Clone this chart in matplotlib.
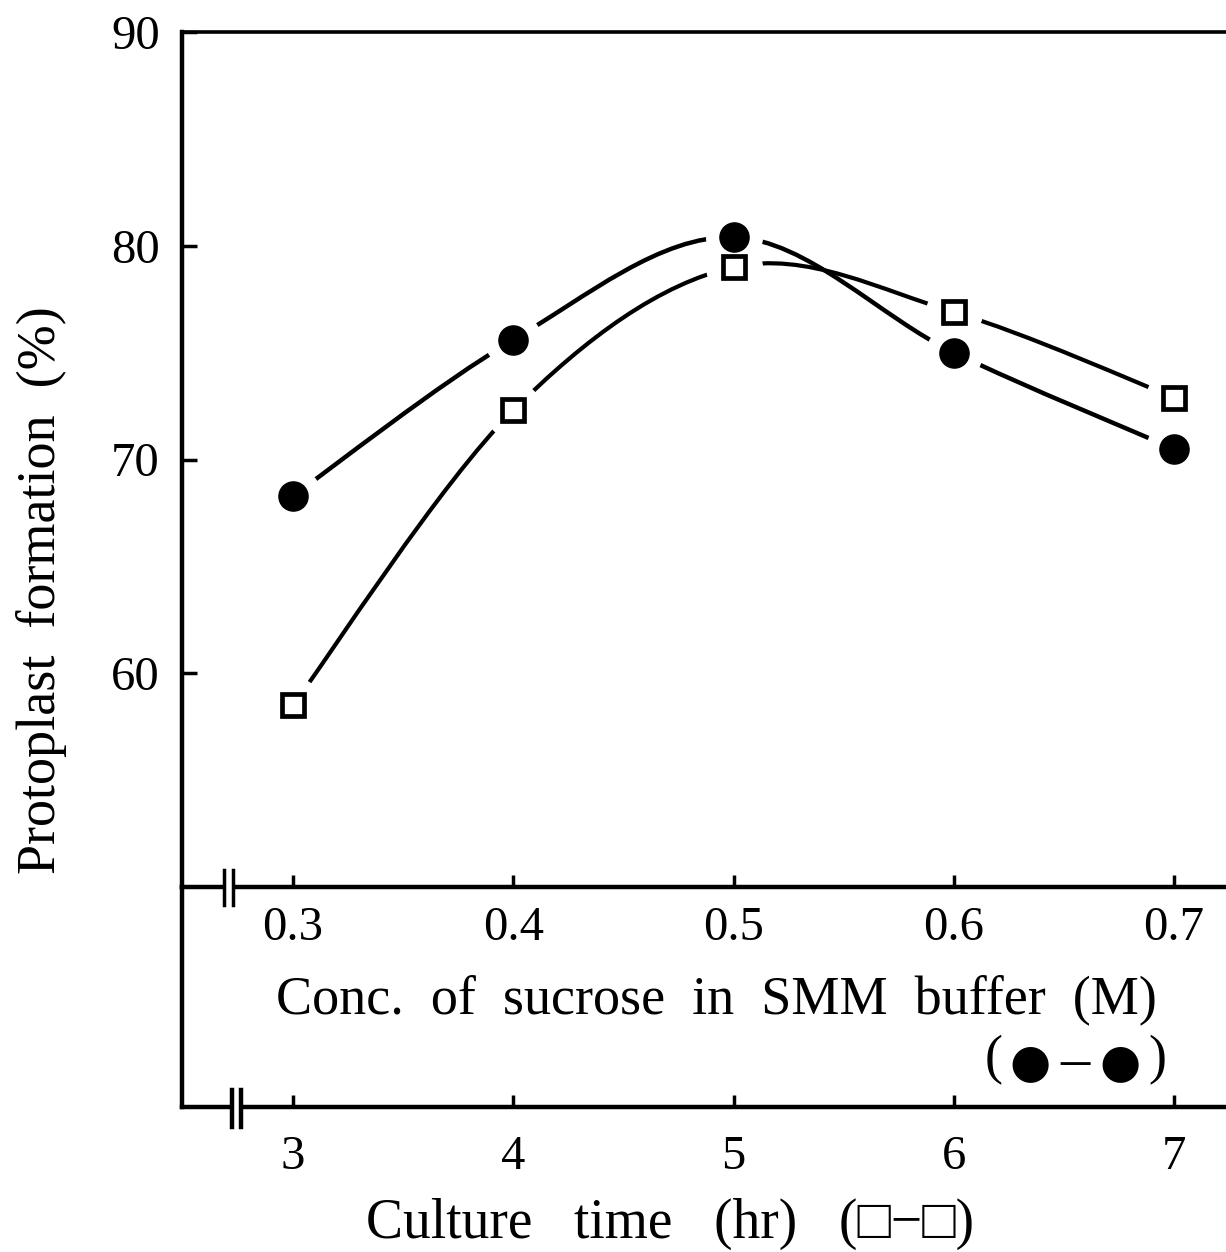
import numpy as np
import matplotlib.pyplot as plt
from matplotlib.path import Path
from matplotlib.patches import PathPatch, Rectangle
from matplotlib.lines import Line2D
from matplotlib.transforms import blended_transform_factory

# values
sucrose = [0.3, 0.4, 0.5, 0.6, 0.7]            # M, filled circles
culture_time = [3, 4, 5, 6, 7]                 # hr, open squares
formation_sucrose = [68.3, 75.6, 80.4, 75.0, 70.5]
formation_time = [58.5, 72.3, 79.0, 76.9, 72.9]
y_ticks = [60, 70, 80, 90]
sucrose_labels = ['0.3', '0.4', '0.5', '0.6', '0.7']
time_labels = ['3', '4', '5', '6', '7']

W, H = 1226, 1252
SERIF = ['Liberation Serif', 'DejaVu Serif']
plt.rcParams['font.family'] = SERIF


def fx(px):
    return px / W


def fy(py):
    return 1 - py / H


def smooth_path(xs, ys):
    # Catmull-Rom curve through the points, as cubic Bezier segments
    pts = np.column_stack([xs, ys]).astype(float)
    ext = np.vstack([pts[0], pts, pts[-1]])
    verts = [pts[0]]
    codes = [Path.MOVETO]
    for i in range(1, len(ext) - 2):
        p0, p1, p2, p3 = ext[i - 1], ext[i], ext[i + 1], ext[i + 2]
        verts += [p1 + (p2 - p0) / 6, p2 - (p3 - p1) / 6, p2]
        codes += [Path.CURVE4] * 3
    return Path(verts, codes)


fig = plt.figure(figsize=(W / 100, H / 100), dpi=100)

# main panel (top x axis = sucrose)
ax = fig.add_axes([fx(182), fy(887), fx(1226 - 182), (887 - 32) / H])
# lower panel carrying the culture time axis
ax2 = fig.add_axes([fx(182), fy(1107), fx(1226 - 182), (1107 - 887) / H])
ax2.patch.set_alpha(0)

ax.set_xlim(0.2496, 0.7236)
ax.set_ylim(50, 90)
ax2.set_xlim(2.496, 7.236)
ax2.set_ylim(0, 1)

for a in (ax, ax2):
    a.spines['right'].set_visible(False)
    for s in a.spines.values():
        s.set_linewidth(3.2)
ax2.spines['top'].set_visible(False)
ax.spines['top'].set_linewidth(2.6)

tr_time = blended_transform_factory(ax2.transData, ax.transData)

ax.add_patch(PathPatch(smooth_path(sucrose, formation_sucrose), fill=False,
                       lw=3.2, color='black', zorder=2))
ax.add_patch(PathPatch(smooth_path(culture_time, formation_time), fill=False,
                       lw=3.0, color='black', zorder=2, transform=tr_time))

# white gaps around the points
ax.plot(sucrose, formation_sucrose, 'o', ms=40, color='white', zorder=3)
ax.plot(culture_time, formation_time, 'o', ms=40, color='white', zorder=3,
        transform=tr_time)

ax.plot(sucrose, formation_sucrose, 'o', ms=21, color='black', zorder=4)
ax.plot(culture_time, formation_time, 's', ms=16, mfc='white', mec='black',
        mew=3.4, zorder=4, transform=tr_time)

ax.set_xlim(0.2496, 0.7236)
ax.set_ylim(50, 90)

ax.set_xticks(sucrose)
ax.set_xticklabels(sucrose_labels)
ax.set_yticks(y_ticks)
ax.tick_params(axis='x', direction='in', length=9, width=2.5, pad=14, labelsize=35)
ax.tick_params(axis='y', direction='in', length=11, width=2.5, pad=16, labelsize=35)

ax2.set_xticks(culture_time)
ax2.set_xticklabels(time_labels)
ax2.set_yticks([])
ax2.tick_params(axis='x', direction='in', length=9, width=2.5, pad=20, labelsize=35)

# axis titles
fig.text(fx(42), fy(590), 'Protoplast  formation  (%)', rotation=90,
         ha='center', va='center', fontsize=39)
fig.text(fx(716), fy(1000), 'Conc.  of  sucrose  in  SMM  buffer  (M)',
         ha='center', va='center', fontsize=39)

# symbol key under the sucrose axis: (● – ●)
fig.text(fx(994), fy(1060), '(', ha='center', va='center', fontsize=39)
fig.text(fx(1157), fy(1060), ')', ha='center', va='center', fontsize=39)
fig.text(fx(1075), fy(1063), '\u2013', ha='center', va='center', fontsize=42)
for xc in (1030, 1120):
    fig.text(fx(xc), fy(1064), '\u25cf', ha='center', va='center',
             fontsize=34, family='DejaVu Sans')

fig.text(fx(670), fy(1224), 'Culture   time   (hr)   (\u25a1\u2212\u25a1)',
         ha='center', va='center', fontsize=40,
         family=['Liberation Serif', 'DejaVu Sans'])

# axis break marks
for x0, x1, y0, y1, lw in [(224, 233, 870, 905, 2.5), (232, 241, 1090, 1127, 3.2)]:
    fig.add_artist(Rectangle((fx(x0), fy(y1 - 10)), fx(x1 - x0), (y1 - y0 - 20) / H,
                             transform=fig.transFigure, facecolor='white',
                             edgecolor='none', zorder=5))
    for xb in (x0, x1):
        fig.add_artist(Line2D([fx(xb), fx(xb)], [fy(y0), fy(y1)],
                              transform=fig.transFigure, color='black', lw=lw,
                              zorder=6))

fig.savefig('out.png', dpi=100)
